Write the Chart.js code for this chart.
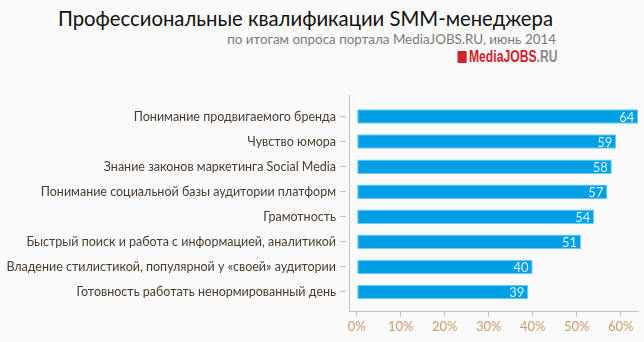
<!DOCTYPE html>
<html>
<head>
<meta charset="utf-8">
<script src="https://cdn.jsdelivr.net/npm/chart.js@4"></script>
<style>
  html, body { margin: 0; padding: 0; background: #fafafa; }
  #wrap { position: relative; width: 644px; height: 342px; font-family: Lato, sans-serif; }
  #titulo { position: absolute; right: 91px; top: 6px; font-size: 20.3px; color: #111; white-space: nowrap; }
  #subtitulo { position: absolute; right: 88px; top: 31px; font-size: 13.4px; color: #7a7a7a; white-space: nowrap; }
  #logo { position: absolute; right: 87px; top: 48px; font-family: 'Liberation Sans Narrow', sans-serif; font-weight: bold; font-size: 16px; white-space: nowrap; color: #d4202c; transform: scaleX(0.76); transform-origin: right center; }
  #logo .quad { display: inline-block; width: 12px; height: 12px; background: #d4202c; margin-right: 3px; vertical-align: -1px; }
  #logo .ru { color: #8a8a8a; }
  canvas { position: absolute; left: 0; top: 0; }
</style>
</head>
<body>
<div id="wrap">
  <div id="titulo">Профессиональные квалификации SMM-менеджера</div>
  <div id="subtitulo">по итогам опроса портала MediaJOBS.RU, июнь 2014</div>
  <div id="logo"><span class="quad"></span>MediaJOBS<span class="ru">.RU</span></div>
  <canvas id="meuGrafico" width="644" height="342"></canvas>
</div>
<script>
const categorias = [
  'Понимание продвигаемого бренда',
  'Чувство юмора',
  'Знание законов маркетинга Social Media',
  'Понимание социальной базы аудитории платформ',
  'Грамотность',
  'Быстрый поиск и работа с информацией, аналитикой',
  'Владение стилистикой, популярной у «своей» аудитории',
  'Готовность работать ненормированный день'
];
const valores = [64, 59, 58, 57, 54, 51, 40, 39];
const ticksX = [0, 10, 20, 30, 40, 50, 60];

const fonte = 'Lato, sans-serif';

// escreve o valor dentro da ponta de cada barra
const rotulosBarras = {
  id: 'rotulosBarras',
  afterDatasetsDraw(chart) {
    const ctx = chart.ctx;
    const meta = chart.getDatasetMeta(0);
    ctx.save();
    ctx.font = '13px ' + fonte;
    ctx.fillStyle = '#d9f1ff';
    ctx.textAlign = 'right';
    ctx.textBaseline = 'middle';
    meta.data.forEach((barra, i) => {
      ctx.fillText(String(valores[i]), barra.x - 4, barra.y + 1);
    });
    ctx.restore();
  }
};

function criarGrafico() {
  const canvas = document.getElementById('meuGrafico');
  let contexto = canvas.getContext('2d');

  new Chart(contexto, {
    type: 'bar',
    data: {
      datasets: [
        {
          data: valores.map((v, i) => ({ x: v, y: i })),
          backgroundColor: '#009fe6',
          borderColor: '#6fcdf5',
          borderWidth: 1,
          borderSkipped: false,
          barPercentage: 0.58,
          categoryPercentage: 1,
        },
      ],
    },
    options: {
      indexAxis: 'y',
      responsive: false,
      animation: false,
      layout: { padding: { top: 95, right: 6, left: 0, bottom: 0 } },
      plugins: {
        legend: { display: false },
        tooltip: { enabled: false },
      },
      scales: {
        x: {
          type: 'linear',
          min: -1.75,
          max: 63.95,
          offset: false,
          afterBuildTicks: (eixo) => { eixo.ticks = ticksX.map((v) => ({ value: v })); },
          afterFit: (eixo) => { eixo.height = 31; },
          ticks: {
            font: { size: 13, family: fonte },
            color: '#c99c6c',
            padding: 2,
            maxRotation: 0,
            callback: (v) => v + '%',
          },
          grid: { drawOnChartArea: false, offset: false, tickLength: 6, color: '#b4c6ce', lineWidth: 1 },
          border: { color: '#b4c6ce', width: 1 },
        },
        y: {
          type: 'linear',
          reverse: true,
          offset: false,
          bounds: 'data',
          min: -0.86,
          max: 7.76,
          afterBuildTicks: (eixo) => { eixo.ticks = categorias.map((c, i) => ({ value: i })); },
          afterFit: (eixo) => { eixo.width = 349; },
          ticks: {
            font: { size: 12.5, family: fonte },
            color: '#4a3b2f',
            padding: 4,
            callback: (v) => categorias[v],
          },
          grid: { drawOnChartArea: false, offset: false, tickLength: 9, color: '#b4c6ce', tickBorderDash: [6, 20] },
          border: { color: '#b4c6ce', width: 1 },
        },
      },
    },
    plugins: [rotulosBarras],
  });
}

document.addEventListener('DOMContentLoaded', criarGrafico);
</script>
</body>
</html>
